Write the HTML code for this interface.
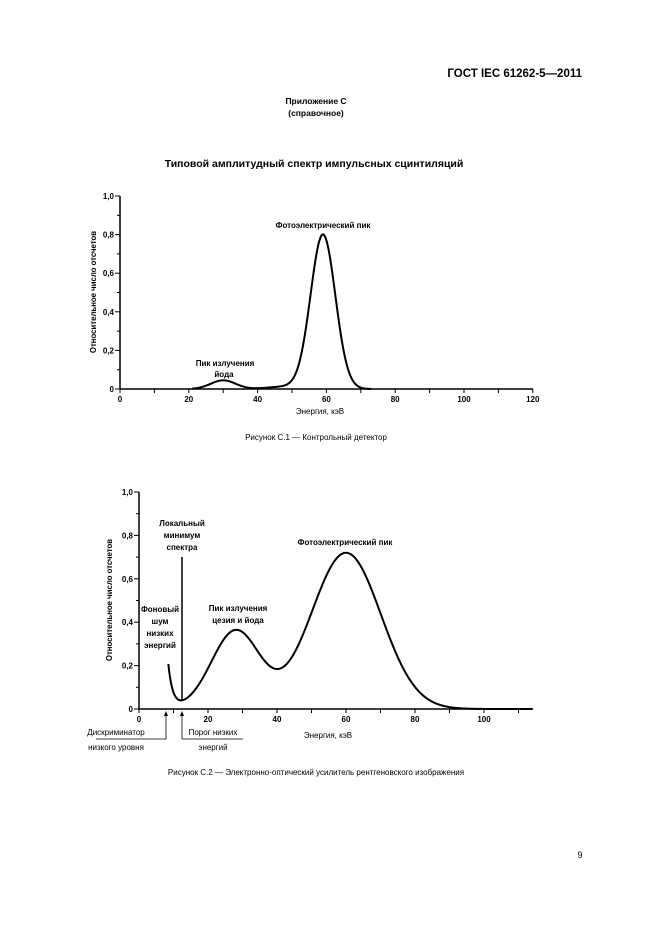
<!DOCTYPE html>
<html><head><meta charset="utf-8"><style>
body{margin:0;background:#fff}
svg{display:block;font-family:"Liberation Sans",sans-serif}
</style></head><body>
<svg id="s" width="661" height="936" viewBox="0 0 661 936" xmlns="http://www.w3.org/2000/svg">
<text x="582" y="77" font-size="11.5" font-weight="bold" text-anchor="end">ГОСТ IEC 61262-5—2011</text>
<text x="316" y="104" font-size="8.5" font-weight="bold" text-anchor="middle">Приложение С</text>
<text x="316" y="116" font-size="8.5" font-weight="bold" text-anchor="middle">(справочное)</text>
<text x="314" y="167" font-size="10.5" font-weight="bold" text-anchor="middle">Типовой амплитудный спектр импульсных сцинтиляций</text>

<g id="c1" stroke="#000" fill="none" stroke-width="1.5"></g>
<g font-size="8" font-weight="bold" text-anchor="middle">
<text x="323" y="228">Фотоэлектрический пик</text>
<text x="225" y="366">Пик излучения</text>
<text x="224" y="377">йода</text>
<text x="320" y="414" font-weight="normal">Энергия, кэВ</text>
<text transform="translate(96,292) rotate(-90)" font-weight="bold" font-size="7.8">Относительное число отсчетов</text>
</g>
<text x="316" y="440" font-size="8" text-anchor="middle">Рисунок  С.1 — Контрольный детектор</text>

<g id="c2" stroke="#000" fill="none" stroke-width="1.5"></g>
<g font-size="8" font-weight="bold" text-anchor="middle">
<text x="182" y="526">Локальный</text>
<text x="182" y="538">минимум</text>
<text x="182" y="550">спектра</text>
<text x="345" y="545">Фотоэлектрический пик</text>
<text x="160" y="612">Фоновый</text>
<text x="160" y="624">шум</text>
<text x="160" y="636">низких</text>
<text x="160" y="648">энергий</text>
<text x="238" y="611">Пик излучения</text>
<text x="238" y="623">цезия и йода</text>
<text x="328" y="738" font-weight="normal">Энергия, кэВ</text>
<text x="116" y="735" font-weight="normal">Дискриминатор</text>
<text x="116" y="750" font-weight="normal">низкого уровня</text>
<text x="213" y="735" font-weight="normal">Порог низких</text>
<text x="213" y="750" font-weight="normal">энергий</text>
<text transform="translate(112,600) rotate(-90)" font-weight="bold" font-size="7.8">Относительное число отсчетов</text>
</g>
<g stroke="#000" stroke-width="0.8">
<line x1="96" y1="739" x2="166" y2="739"/><line x1="166" y1="739" x2="166" y2="712"/>
<line x1="182" y1="739" x2="243" y2="739"/><line x1="182" y1="739" x2="182" y2="712"/>
</g>
<path d="M164 716 L166 711 L168 716 Z M180 716 L182 711 L184 716 Z" fill="#000"/>
<line x1="182" y1="557" x2="182" y2="700" stroke="#000" stroke-width="1.5"/>
<text x="316" y="775" font-size="8" text-anchor="middle">Рисунок  С.2 — Электронно-оптический усилитель рентгеновского изображения</text>
<text x="580" y="858" font-size="9" text-anchor="middle">9</text>
</svg>
<script>
var NS="http://www.w3.org/2000/svg";
function el(g,t,a){var e=document.createElementNS(NS,t);for(var k in a)e.setAttribute(k,a[k]);g.appendChild(e);return e;}
function txt(g,x,y,s,anchor){var e=el(g,"text",{x:x,y:y,"font-size":"8","font-weight":"bold","text-anchor":anchor,stroke:"none",fill:"#000"});e.textContent=s;}
function chart(id,ox,oy,sx,sy,xmax,xend,xlabs,f,x0,x1){
 var g=document.getElementById(id);
 el(g,"line",{x1:ox,y1:oy,x2:xend,y2:oy});
 el(g,"line",{x1:ox,y1:oy,x2:ox,y2:oy-sy});
 for(var i=0;i<=10;i++){var y=oy-sy*i/10;el(g,"line",{x1:ox-(i%2?3:5),y1:y,x2:ox,y2:y,"stroke-width":1});
  if(i%2==0)txt(g,ox-6,y+3,i==0?"0":(i/10).toFixed(1).replace(".",","),"end");}
 for(var v=0;v<=xmax;v+=10){var x=ox+v*sx;el(g,"line",{x1:x,y1:oy,x2:x,y2:oy+4,"stroke-width":1});
  if(v%20==0&&xlabs)txt(g,x,oy+13,""+v,"middle");}
 var d="";for(var x=x0;x<=x1;x+=0.25){d+=(d?"L":"M")+(ox+x*sx).toFixed(2)+" "+(oy-f(x)*sy).toFixed(2);}
 el(g,"path",{d:d,"stroke-width":2});
}
function G(x,m,s,a){return a*Math.exp(-(x-m)*(x-m)/(2*s*s));}
chart("c1",120,389,3.44,193,120,533,1,function(x){return G(x,59,3.6,0.8)+G(x,30,3.6,0.045)+G(x,48,5,0.012);},21,73);
chart("c2",139,709,3.45,217,110,533,1,function(x){return G(x,28,7,0.36)+G(x,60,10.1,0.72)+0.2*Math.exp(-(x-8.5)/1.3);},8.5,114);
</script>
</body></html>
